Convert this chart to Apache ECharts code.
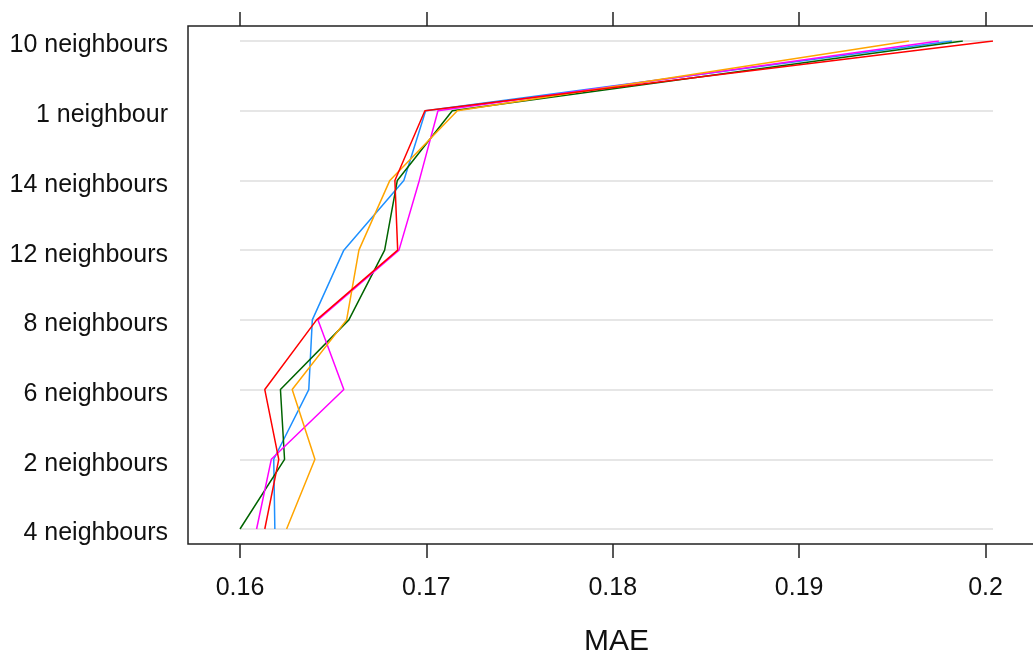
<!DOCTYPE html>
<html>
<head>
<meta charset="utf-8">
<script src="https://cdn.jsdelivr.net/npm/echarts@6/dist/echarts.min.js"></script>
<style>
  html, body { margin: 0; padding: 0; background: #fff; }
  #chart { width: 1033px; height: 654px; }
</style>
</head>
<body>
<div id="chart"></div>
<script>
// Neighbourhood sizes, bottom to top
const categories = ['4 neighbours', '2 neighbours', '6 neighbours', '8 neighbours',
                    '12 neighbours', '14 neighbours', '1 neighbour', '10 neighbours'];

// MAE per neighbourhood size, one array per run (same order as categories)
const blueRun    = [0.16187, 0.16181, 0.16369, 0.16388, 0.16557, 0.16879, 0.16996, 0.19820];
const greenRun   = [0.16000, 0.16239, 0.16217, 0.16584, 0.16776, 0.16844, 0.17139, 0.19878];
const magentaRun = [0.16089, 0.16168, 0.16557, 0.16418, 0.16853, 0.16962, 0.17062, 0.19750];
const orangeRun  = [0.16250, 0.16402, 0.16280, 0.16572, 0.16638, 0.16804, 0.17166, 0.19589];
const redRun     = [0.16133, 0.16208, 0.16133, 0.16411, 0.16846, 0.16831, 0.16992, 0.20040];

// Tick positions on the MAE axis
const maeTicks = [0.16, 0.17, 0.18, 0.19, 0.2];

const runs = [
  { name: 'run A', values: blueRun,    color: '#1E90FF' },
  { name: 'run B', values: greenRun,   color: '#006400' },
  { name: 'run C', values: magentaRun, color: '#FF00FF' },
  { name: 'run D', values: orangeRun,  color: '#FFA500' },
  { name: 'run E', values: redRun,     color: '#FF0000' }
];

const FONT = '"Liberation Sans", Arial, sans-serif';
const allValues = runs.flatMap(r => r.values);
const xMin = Math.min(...allValues);
const xMax = Math.max(...allValues);

const chart = echarts.init(document.getElementById('chart'), null, { renderer: 'canvas' });

const tickStyle = { show: true, length: 14, inside: false, customValues: maeTicks,
                    lineStyle: { color: '#222', width: 1.5 } };

chart.setOption({
  animation: false,
  backgroundColor: '#ffffff',
  grid: { left: 240, right: 40, top: 41, bottom: 125, containLabel: false,
          outerBoundsMode: 'none' },
  graphic: [{
    // panel border (right side runs past the page edge)
    type: 'rect',
    shape: { x: 188, y: 26, width: 1000, height: 518 },
    style: { fill: 'none', stroke: '#222', lineWidth: 1.5 },
    silent: true
  }],
  xAxis: [{
    type: 'value',
    position: 'bottom',
    min: xMin, max: xMax,
    offset: 15,
    axisLine: { show: false },
    axisTick: tickStyle,
    axisLabel: {
      show: true, customValues: maeTicks, margin: 32,
      fontSize: 25, color: '#111', fontFamily: FONT,
      formatter: v => String(+v.toFixed(2))
    },
    splitLine: { show: false },
    name: 'MAE',
    nameLocation: 'middle',
    nameGap: 83,
    nameTextStyle: { fontSize: 30, color: '#111', fontFamily: FONT }
  }, {
    type: 'value',
    position: 'top',
    min: xMin, max: xMax,
    offset: 15,
    axisLine: { show: false },
    axisTick: tickStyle,
    axisLabel: { show: false },
    splitLine: { show: false }
  }],
  yAxis: {
    type: 'category',
    data: categories,
    boundaryGap: false,
    axisLine: { show: false },
    axisTick: { show: false },
    // labels sit slightly below their row line
    axisLabel: { margin: 72, fontSize: 25, color: '#111', fontFamily: FONT,
                 verticalAlign: 'top', lineHeight: 9 },
    splitLine: { show: true, lineStyle: { color: '#e6e6e6', width: 2 } }
  },
  series: runs.map(r => ({
    name: r.name,
    type: 'line',
    xAxisIndex: 0,
    data: r.values.map((v, i) => [v, categories[i]]),
    showSymbol: false,
    symbol: 'none',
    lineStyle: { color: r.color, width: 1.5 },
    itemStyle: { color: r.color },
    z: 3
  }))
});
</script>
</body>
</html>
